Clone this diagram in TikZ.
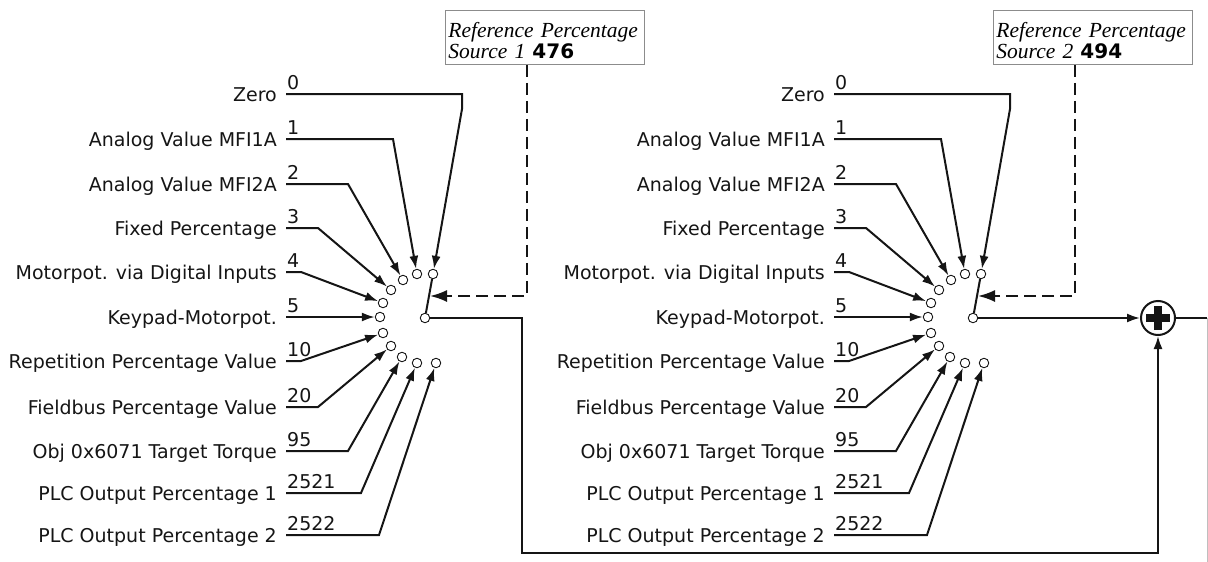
\documentclass[tikz,border=0pt]{standalone}
\usepackage{fontspec}
\setmainfont{Liberation Serif}
\newfontfamily\labfont{DejaVu Sans}
\usetikzlibrary{arrows.meta}
\definecolor{ink}{HTML}{151515}
\tikzset{
 wire/.style={draw=ink, line width=2pt, line join=miter},
 arr/.style={wire, -{Latex[length=13pt,width=9pt]}},
 bigarr/.style={-{Latex[length=17pt,width=12pt]}},
 term/.style={circle, draw=ink, fill=white, line width=0.9pt, minimum size=9.5pt, inner sep=0pt},
 lab/.style={anchor=base east, inner sep=0pt, text=ink, font=\labfont\fontsize{19}{19}\selectfont},
 num/.style={anchor=base west, inner sep=0pt, text=ink, font=\labfont\fontsize{19}{19}\selectfont},
 refbox/.style={draw=black!45, line width=0.9pt, fill=white, anchor=north west, minimum width=199pt, minimum height=54pt, text width=193pt, align=left, inner xsep=3pt, inner ysep=0pt, font=\itshape\fontsize{21.5}{21}\selectfont},
 dashwire/.style={draw=ink, line width=2pt, dash pattern=on 12pt off 6pt},
}
\newcommand\refblock[4]{%
\begin{scope}[xshift=#2]
 \node[refbox] (#1box) at (445,10) {\rule{0pt}{21pt}Reference Percentage\\Source #3 {\upshape\labfont\bfseries\fontsize{20}{21}\selectfont #4}};
 % labels and numbers
 \node[lab] (#1l0) at (277,101) {Zero};
 \node[lab] (#1l1) at (277,146) {Analog Value MFI1A};
 \node[lab] (#1l2) at (277,191) {Analog Value MFI2A};
 \node[lab] (#1l3) at (277,235) {Fixed Percentage};
 \node[lab] (#1l4) at (277,279) {Motorpot. via Digital Inputs};
 \node[lab] (#1l5) at (277,324) {Keypad-Motorpot.};
 \node[lab] (#1l6) at (277,368) {Repetition Percentage Value};
 \node[lab] (#1l7) at (277,414) {Fieldbus Percentage Value};
 \node[lab] (#1l8) at (277,458) {Obj 0x6071 Target Torque};
 \node[lab] (#1l9) at (277,500) {PLC Output Percentage 1};
 \node[lab] (#1l10) at (277,542) {PLC Output Percentage 2};
 \node[num] (#1n0) at (287,89) {0};
 \node[num] (#1n1) at (287,134) {1};
 \node[num] (#1n2) at (287,179) {2};
 \node[num] (#1n3) at (287,223) {3};
 \node[num] (#1n4) at (287,267) {4};
 \node[num] (#1n5) at (287,312) {5};
 \node[num] (#1n6) at (287,356) {10};
 \node[num] (#1n7) at (287,402) {20};
 \node[num] (#1n8) at (287,446) {95};
 \node[num] (#1n9) at (287,488) {2521};
 \node[num] (#1n10) at (287,530) {2522};
 % line starts
 \coordinate (#1s0) at (286,94);
 \coordinate (#1s1) at (286,139);
 \coordinate (#1s2) at (286,184);
 \coordinate (#1s3) at (286,228);
 \coordinate (#1s4) at (286,272);
 \coordinate (#1s5) at (286,317);
 \coordinate (#1s6) at (286,361);
 \coordinate (#1s7) at (286,407);
 \coordinate (#1s8) at (286,451);
 \coordinate (#1s9) at (286,493);
 \coordinate (#1s10) at (286,535);
 % terminals
 \node[term] (#1t0) at (433,274) {};
 \node[term] (#1t1) at (417,274) {};
 \node[term] (#1t2) at (403,280) {};
 \node[term] (#1t3) at (391,290) {};
 \node[term] (#1t4) at (383,303) {};
 \node[term] (#1t5) at (380,317) {};
 \node[term] (#1t6) at (383,333) {};
 \node[term] (#1t7) at (391,346) {};
 \node[term] (#1t8) at (402,357) {};
 \node[term] (#1t9) at (417,363) {};
 \node[term] (#1t10) at (436,363) {};
 \node[term] (#1out) at (425,318) {};
 % input wires
 \draw[arr] (#1s0) -- (462,94) -- (462,109) -- (#1t0);
 \draw[arr] (#1s1) -- (393,139) -- (#1t1);
 \draw[arr] (#1s2) -- (348,184) -- (#1t2);
 \draw[arr] (#1s3) -- (318,228) -- (#1t3);
 \draw[arr] (#1s4) -- (301,272) -- (#1t4);
 \draw[arr] (#1s5) -- (#1t5);
 \draw[arr] (#1s6) -- (301,361) -- (#1t6);
 \draw[arr] (#1s7) -- (318,407) -- (#1t7);
 \draw[arr] (#1s8) -- (348,451) -- (#1t8);
 \draw[arr] (#1s9) -- (361,493) -- (#1t9);
 \draw[arr] (#1s10) -- (379,535) -- (#1t10);
 % switch arm
 \draw[wire] (#1out) -- (#1t0);
 \coordinate (#1tip) at (430,296);
 \draw[dashwire, bigarr] ([xshift=82pt]#1box.south west) -- (527,296) -- (#1tip);
\end{scope}}
\begin{document}
\begin{tikzpicture}[x=1pt, y=-1pt]
\useasboundingbox (0,0) rectangle (1208,562);
\refblock{L}{0pt}{1}{476}
\refblock{R}{548pt}{2}{494}
\node[circle, draw=ink, line width=2pt, minimum size=34pt, inner sep=0pt, fill=white] (plus) at (1158,318) {};
\draw[ink, line width=7.5pt] ([xshift=-12pt]plus.center) -- ([xshift=12pt]plus.center);
\draw[ink, line width=7.5pt] ([yshift=-12pt]plus.center) -- ([yshift=12pt]plus.center);
\coordinate (c1) at (522,318);
\coordinate (c2) at (522,553);
\coordinate (c3) at (1158,553);
\draw[arr] (Lout) -- (c1) -- (c2) -- (c3) -- (plus);
\draw[arr] (Rout) -- (plus);
\coordinate (exit) at (1207,318);
\draw[wire] (plus) -- (exit);
\draw[black!25, line width=0.8pt] (exit) -- (1207,562);
\end{tikzpicture}
\end{document}
